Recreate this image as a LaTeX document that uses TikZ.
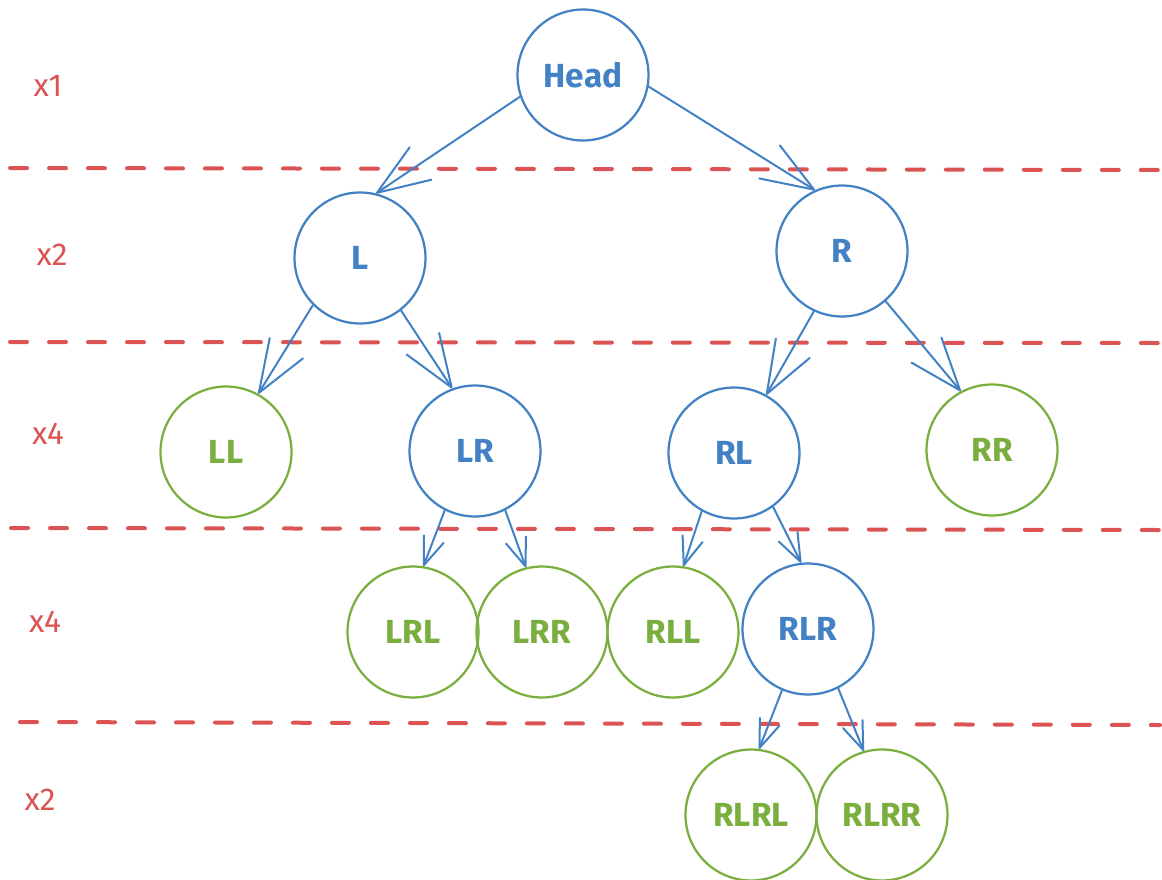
\documentclass[tikz,border=0pt]{standalone}
\usepackage{fontspec}
\setmainfont{Fira Sans}
\usetikzlibrary{arrows.meta}
\definecolor{nblue}{HTML}{4282C4}
\definecolor{ngreen}{HTML}{7AAE3E}
\definecolor{nred}{HTML}{DB5353}
\begin{document}
\begin{tikzpicture}[x=0.02cm,y=-0.02cm,
  bnode/.style={circle,draw=nblue,text=nblue,line width=0.045cm,minimum size=2.62cm,inner sep=0pt,font=\fontsize{19}{22}\selectfont\bfseries},
  gnode/.style={circle,draw=ngreen,text=ngreen,line width=0.045cm,minimum size=2.62cm,inner sep=0pt,font=\fontsize{19}{22}\selectfont\bfseries},
  bigarr/.style={draw=nblue,line width=0.04cm,line cap=round,-{Straight Barb[length=1.05cm,width=0.78cm,line cap=round,round]}},
  smallarr/.style={draw=nblue,line width=0.04cm,line cap=round,-{Straight Barb[length=0.56cm,width=0.42cm,line cap=round,round]}},
  sepline/.style={draw=nred,line width=0.08cm,line cap=round,dash pattern=on 0.34cm off 0.44cm},
  lvl/.style={text=nred,font=\fontsize{18}{21}\selectfont}
]
\useasboundingbox (0,0) rectangle (1162,879);
% separators
\draw[sepline] (10,168) -- (1160,170);
\draw[sepline] (10,342) -- (1160,343);
\draw[sepline] (11,528) -- (1160,530);
\draw[sepline] (20,722) -- (1160,725);
% level labels
\node[lvl] (c1) at (48,86) {x1};
\node[lvl] (c2) at (52,255) {x2};
\node[lvl] (c3) at (48,434) {x4};
\node[lvl] (c4) at (45,622) {x4};
\node[lvl] (c5) at (40,800) {x2};
% nodes
\node[bnode] (Head) at (583,75) {Head};
\node[bnode] (L) at (360,258) {L};
\node[bnode] (R) at (842,251) {R};
\node[gnode] (LL) at (226,452) {LL};
\node[bnode] (LR) at (475,451) {LR};
\node[bnode] (RL) at (734,453) {RL};
\node[gnode] (RR) at (992,450) {RR};
\node[gnode] (LRL) at (413,632) {LRL};
\node[gnode] (LRR) at (542,632) {LRR};
\node[gnode] (RLL) at (673,632) {RLL};
\node[bnode] (RLR) at (808,629) {RLR};
\node[gnode] (RLRL) at (751,815) {RLRL};
\node[gnode] (RLRR) at (882,815) {RLRR};
% arrows
\draw[bigarr] (Head.199) -- (L.76);
\draw[bigarr] (Head.-10) -- (R.114);
\draw[bigarr] (L.225) -- (LL.61);
\draw[bigarr] (L.308) -- (LR.110);
\draw[bigarr] (R.245) -- (RL.61);
\draw[bigarr] (R.311) -- (RR.118);
\draw[smallarr] (LR.243) -- (LRL.81);
\draw[smallarr] (LR.297) -- (LRR.104);
\draw[smallarr] (RL.241) -- (RLL.81);
\draw[smallarr] (RL.306) -- (RLR.96);
\draw[smallarr] (RLR.247) -- (RLRL.83);
\draw[smallarr] (RLR.297) -- (RLRR.106);
\end{tikzpicture}
\end{document}
